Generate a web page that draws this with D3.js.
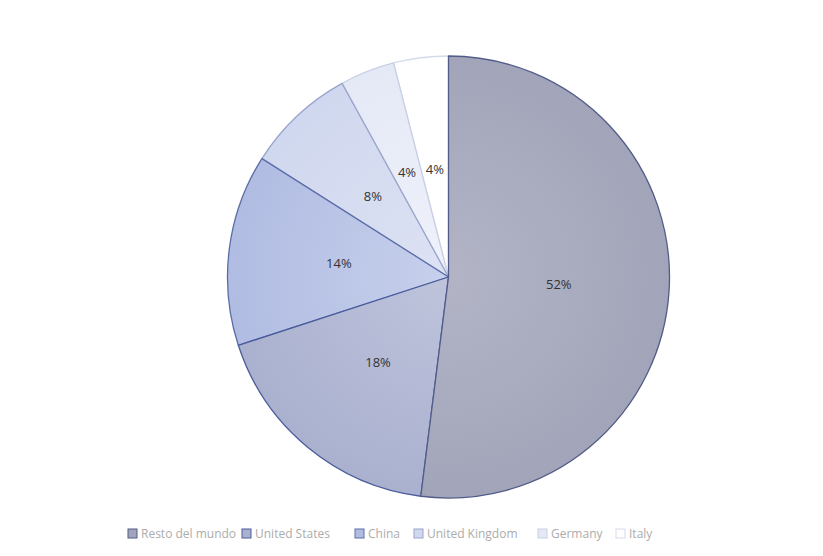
<!DOCTYPE html>
<html><head><meta charset="utf-8">
<script src="https://cdn.jsdelivr.net/npm/d3@7"></script>
<style>body{margin:0;background:#fff;}svg{display:block;font-family:"Open Sans","DejaVu Sans",sans-serif;}</style>
</head><body>
<svg id="c" width="823" height="556"></svg>
<script>
const categories = ["Resto del mundo","United States","China","United Kingdom","Germany","Italy"];
const values = [52,18,14,8,4,4];
const labels = ["52%","18%","14%","8%","4%","4%"];
const innerColors = ["#b2b4c6","#bfc4dc","#c7d0ec","#dde2f3","#eff2fa","#ffffff"];
const outerColors = ["#a2a5b9","#aab1cf","#b0bce2","#d0d8ef","#e5e9f6","#ffffff"];
const strokeColors = ["#525c88","#4a5c9c","#5b6ea8","#9aa5cc","#c8cfe6","#d6dbea"];
const legendSwatch = ["#a2a5b9","#aab1cf","#b0bce2","#d0d8ef","#e5e9f6","#ffffff"];

const svg = d3.select("#c");
const cx = 448.5, cy = 277, r = 221;
const defs = svg.append("defs");
categories.forEach((c,i)=>{
  const g = defs.append("radialGradient").attr("id","g"+i)
    .attr("gradientUnits","userSpaceOnUse").attr("cx",0).attr("cy",0).attr("r",r);
  g.append("stop").attr("offset","0%").attr("stop-color",innerColors[i]);
  g.append("stop").attr("offset","100%").attr("stop-color",outerColors[i]);
});
const pie = d3.pie().sort(null).value(d=>d)(values);
const arc = d3.arc().innerRadius(0).outerRadius(r);
const G = svg.append("g").attr("transform",`translate(${cx},${cy})`);
const order = d3.range(values.length).reverse();
G.selectAll("path").data(order).join("path")
  .attr("d",i=>arc(pie[i]))
  .attr("fill",i=>`url(#g${i})`)
  .attr("stroke",i=>strokeColors[i]).attr("stroke-width",1.3).attr("stroke-linejoin","round");
const labelPos = [0.5,0.5,0.5,0.5,0.51,0.49];
G.selectAll("text").data(pie).join("text")
  .attr("transform",(d,i)=>{
    const rr = r*labelPos[i];
    const a = (d.startAngle+d.endAngle)/2;
    return `translate(${rr*Math.sin(a)},${-rr*Math.cos(a)})`;
  })
  .attr("text-anchor","middle").attr("dy","0.35em")
  .attr("font-size",13).attr("fill","#333")
  .text((d,i)=>labels[i]);

const lx = [128,242,355,414,538,616];
const L = svg.append("g").attr("transform","translate(0,534)");
categories.forEach((c,i)=>{
  L.append("rect").attr("x",lx[i]).attr("y",-5).attr("width",9).attr("height",9)
    .attr("fill",legendSwatch[i]).attr("stroke",strokeColors[i]).attr("stroke-width",1);
  L.append("text").attr("x",lx[i]+13).attr("y",0).attr("dy","0.35em")
    .attr("font-size",12).attr("fill","#acacac").text(c);
});
</script>
</body></html>
